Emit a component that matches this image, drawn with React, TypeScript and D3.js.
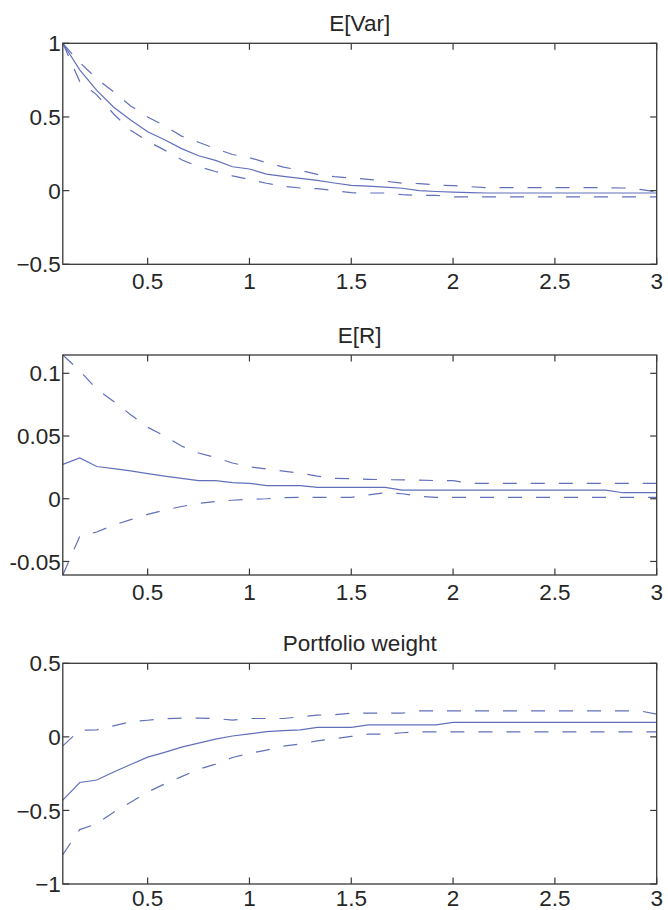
import React from "react";
import * as d3 from "d3";

// Horizon in months (plotted in years)
const horizonMonths = [
  1, 2, 3, 4, 5, 6, 7, 8, 9, 10, 11, 12, 13, 14, 15, 16, 17, 18,
  19, 20, 21, 22, 23, 24, 25, 26, 27, 28, 29, 30, 31, 32, 33, 34, 35, 36,
];

// E[Var]
const varMean = [
  1.0, 0.82, 0.68, 0.566, 0.48, 0.4, 0.345, 0.285, 0.237, 0.205, 0.162, 0.147,
  0.112, 0.097, 0.083, 0.07, 0.052, 0.036, 0.03, 0.024, 0.016, 0.0, -0.006, -0.01,
  -0.013, -0.016, -0.016, -0.016, -0.016, -0.016, -0.016, -0.016, -0.016, -0.016, -0.016, -0.016,
];
const varUpper = [
  1.0, 0.87, 0.76, 0.67, 0.575, 0.5, 0.44, 0.37, 0.328, 0.285, 0.245, 0.224,
  0.19, 0.16, 0.138, 0.11, 0.095, 0.085, 0.077, 0.064, 0.05, 0.048, 0.038, 0.034,
  0.027, 0.02, 0.02, 0.02, 0.02, 0.02, 0.02, 0.02, 0.02, 0.018, 0.008, -0.008,
];
const varLower = [
  1.0, 0.74, 0.65, 0.52, 0.41, 0.335, 0.275, 0.21, 0.163, 0.13, 0.1, 0.076,
  0.05, 0.03, 0.018, 0.013, 0.0, -0.014, -0.016, -0.016, -0.027, -0.032, -0.032, -0.043,
  -0.043, -0.043, -0.043, -0.043, -0.043, -0.043, -0.043, -0.043, -0.043, -0.043, -0.043, -0.043,
];

// E[R]
const rMean = [
  0.0274, 0.0325, 0.0257, 0.024, 0.0222, 0.02, 0.018, 0.0162, 0.0144, 0.0144, 0.0128, 0.0123,
  0.0105, 0.0105, 0.0105, 0.009, 0.009, 0.009, 0.009, 0.009, 0.0069, 0.0069, 0.0069, 0.0069,
  0.0069, 0.0069, 0.0069, 0.0069, 0.0069, 0.0069, 0.0069, 0.0069, 0.0069, 0.0048, 0.0048, 0.0048,
];
const rUpper = [
  0.1146, 0.102, 0.0875, 0.0775, 0.067, 0.057, 0.05, 0.042, 0.0365, 0.0328, 0.0285, 0.0255,
  0.0237, 0.022, 0.0203, 0.018, 0.0163, 0.016, 0.0155, 0.0152, 0.015, 0.0148, 0.0145, 0.0144,
  0.0123, 0.0123, 0.0123, 0.0123, 0.0123, 0.0123, 0.0123, 0.0123, 0.0123, 0.0123, 0.0123, 0.0123,
];
const rLower = [
  -0.0608, -0.03, -0.0265, -0.021, -0.0167, -0.0125, -0.009, -0.0062, -0.0037, -0.0022, -0.0012, -0.0005,
  0.0, 0.0008, 0.0011, 0.0011, 0.0011, 0.0011, 0.003, 0.0048, 0.004, 0.002, 0.0011, 0.0011,
  0.0011, 0.0011, 0.0011, 0.0011, 0.0011, 0.0011, 0.0011, 0.0011, 0.0011, 0.0011, 0.0011, 0.0011,
];

// Portfolio weight
const wMean = [
  -0.43, -0.31, -0.293, -0.239, -0.188, -0.138, -0.105, -0.07, -0.042, -0.015, 0.006, 0.02,
  0.035, 0.042, 0.048, 0.064, 0.064, 0.064, 0.082, 0.082, 0.082, 0.082, 0.082, 0.098,
  0.098, 0.098, 0.098, 0.098, 0.098, 0.098, 0.098, 0.098, 0.098, 0.098, 0.098, 0.098,
];
const wUpper = [
  -0.061, 0.045, 0.048, 0.075, 0.103, 0.113, 0.124, 0.127, 0.127, 0.125, 0.114, 0.125,
  0.125, 0.125, 0.136, 0.148, 0.15, 0.161, 0.161, 0.161, 0.161, 0.177, 0.177, 0.177,
  0.177, 0.177, 0.177, 0.177, 0.177, 0.177, 0.177, 0.177, 0.177, 0.177, 0.177, 0.154,
];
const wLower = [
  -0.8, -0.63, -0.59, -0.512, -0.444, -0.375, -0.32, -0.27, -0.22, -0.185, -0.14, -0.112,
  -0.09, -0.063, -0.048, -0.027, -0.012, 0.003, 0.018, 0.018, 0.028, 0.034, 0.034, 0.034,
  0.034, 0.034, 0.034, 0.034, 0.034, 0.034, 0.034, 0.034, 0.034, 0.034, 0.034, 0.034,
];

// Axis ticks and labels
const xTicks = [0.5, 1, 1.5, 2, 2.5, 3];
const xTickLabels = ["0.5", "1", "1.5", "2", "2.5", "3"];

const varTicks = [-0.5, 0, 0.5, 1];
const varTickLabels = ["\u22120.5", "0", "0.5", "1"];
const rTicks = [-0.05, 0, 0.05, 0.1];
const rTickLabels = ["-0.05", "0", "0.05", "0.1"];
const wTicks = [-1, -0.5, 0, 0.5];
const wTickLabels = ["\u22121", "\u22120.5", "0", "0.5"];

const titles = ["E[Var]", "E[R]", "Portfolio weight"];

const W = 668;
const H = 910;
const LEFT = 62.8;
const RIGHT = 656.7;
const FONT = "'Liberation Sans', Arial, Helvetica, sans-serif";
const LINE_COLOR = "#6270bb";
const AXIS_COLOR = "#383838";
const TEXT_COLOR = "#262626";
const TICK_LEN = 6.5;

const panels = [
  {
    title: titles[0], mean: varMean, upper: varUpper, lower: varLower,
    yDomain: [-0.5, 1], yTicks: varTicks, yLabels: varTickLabels, top: 43.3, bottom: 264.3, xLabelGap: 25,
  },
  {
    title: titles[1], mean: rMean, upper: rUpper, lower: rLower,
    yDomain: [d3.min(rLower) as number, d3.max(rUpper) as number],
    yTicks: rTicks, yLabels: rTickLabels, top: 355, bottom: 575, xLabelGap: 24.5,
  },
  {
    title: titles[2], mean: wMean, upper: wUpper, lower: wLower,
    yDomain: [-1, 0.5], yTicks: wTicks, yLabels: wTickLabels, top: 663.3, bottom: 884, xLabelGap: 22,
  },
];

function Panel({ p }: { p: (typeof panels)[number] }) {
  const x = d3.scaleLinear().domain([1 / 12, 3]).range([LEFT, RIGHT]);
  const y = d3.scaleLinear().domain(p.yDomain).range([p.bottom, p.top]);
  const line = (vals: number[]) =>
    d3
      .line<number>()
      .x((_, i) => x(horizonMonths[i] / 12))
      .y((v) => y(v))(vals) as string;

  return (
    <g>
      <text
        x={(LEFT + RIGHT) / 2}
        y={p.top - 12}
        textAnchor="middle"
        fontFamily={FONT}
        fontSize={22.5}
        fill={TEXT_COLOR}
      >
        {p.title}
      </text>
      <path d={line(p.upper)} fill="none" stroke={LINE_COLOR} strokeWidth={1.2} strokeDasharray="14,14" />
      <path d={line(p.lower)} fill="none" stroke={LINE_COLOR} strokeWidth={1.2} strokeDasharray="14,14" />
      <path d={line(p.mean)} fill="none" stroke={LINE_COLOR} strokeWidth={1.2} />
      <rect
        x={LEFT}
        y={p.top}
        width={RIGHT - LEFT}
        height={p.bottom - p.top}
        fill="none"
        stroke={AXIS_COLOR}
        strokeWidth={1.3}
      />
      {xTicks.map((t, i) => (
        <g key={"x" + i}>
          <line x1={x(t)} x2={x(t)} y1={p.bottom} y2={p.bottom - TICK_LEN} stroke={AXIS_COLOR} strokeWidth={1.2} />
          <line x1={x(t)} x2={x(t)} y1={p.top} y2={p.top + TICK_LEN} stroke={AXIS_COLOR} strokeWidth={1.2} />
          <text
            x={x(t)}
            y={p.bottom + p.xLabelGap}
            textAnchor="middle"
            fontFamily={FONT}
            fontSize={22.5}
            fill={TEXT_COLOR}
          >
            {xTickLabels[i]}
          </text>
        </g>
      ))}
      {p.yTicks.map((t, i) => (
        <g key={"y" + i}>
          <line x1={LEFT} x2={LEFT + TICK_LEN} y1={y(t)} y2={y(t)} stroke={AXIS_COLOR} strokeWidth={1.2} />
          <line x1={RIGHT} x2={RIGHT - TICK_LEN} y1={y(t)} y2={y(t)} stroke={AXIS_COLOR} strokeWidth={1.2} />
          <text
            x={LEFT - 2}
            y={y(t)}
            dy="0.36em"
            textAnchor="end"
            fontFamily={FONT}
            fontSize={22.5}
            fill={TEXT_COLOR}
          >
            {p.yLabels[i]}
          </text>
        </g>
      ))}
    </g>
  );
}

export default function App() {
  return (
    <svg
      width={W}
      height={H}
      viewBox={`0 0 ${W} ${H}`}
      style={{ position: "absolute", left: 0, top: 0, background: "#fff" }}
    >
      <rect width={W} height={H} fill="#fff" />
      {panels.map((p, i) => (
        <Panel key={i} p={p} />
      ))}
    </svg>
  );
}
